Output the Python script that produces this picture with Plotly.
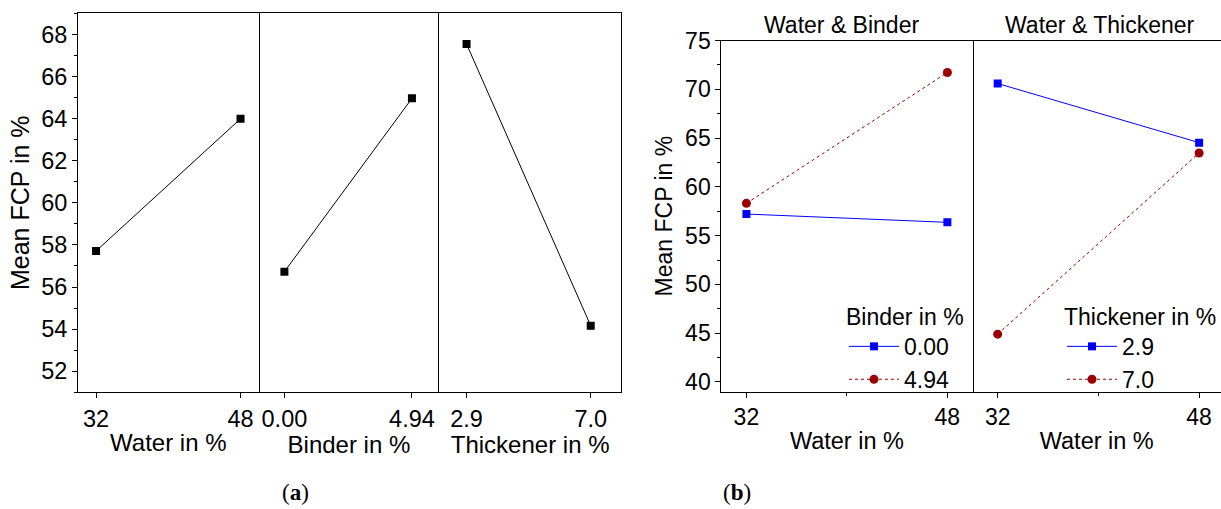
import plotly.graph_objects as go

W, H = 1221, 509

# ---- data (a): main effects ----
water_levels = [32, 48]
water_means = [57.71, 63.99]
binder_levels = [0.0, 4.94]
binder_means = [56.73, 64.96]
thick_levels = [2.9, 7.0]
thick_means = [67.54, 54.16]

# ---- data (b): interactions ----
wb_water = [32, 48]
wb_binder0 = [57.21, 56.36]
wb_binder494 = [58.31, 71.72]
wt_water = [32, 48]
wt_thick29 = [70.59, 64.53]
wt_thick70 = [44.90, 63.47]

FONT = "Liberation Sans, Arial, sans-serif"
FA = 23.5   # panel (a) text size
FB = 23     # panel (b) text size
BLUE = "#0000FF"
RED = "#9B0000"

def xd(a, b):
    return [a / W, min(b / W, 1.0)]

def yd(top, bottom):
    return [1 - bottom / H, 1 - top / H]

def fnt(s):
    return dict(size=s, family=FONT, color="black")

fig = go.Figure()

# (a)
fig.add_trace(go.Scatter(x=water_levels, y=water_means, xaxis="x", yaxis="y",
                         mode="lines+markers", line=dict(color="black", width=1),
                         marker=dict(symbol="square", size=8, color="black"), showlegend=False))
fig.add_trace(go.Scatter(x=binder_levels, y=binder_means, xaxis="x2", yaxis="y2",
                         mode="lines+markers", line=dict(color="black", width=1),
                         marker=dict(symbol="square", size=8, color="black"), showlegend=False))
fig.add_trace(go.Scatter(x=thick_levels, y=thick_means, xaxis="x3", yaxis="y3",
                         mode="lines+markers", line=dict(color="black", width=1),
                         marker=dict(symbol="square", size=8, color="black"), showlegend=False))

# (b)
fig.add_trace(go.Scatter(x=wb_water, y=wb_binder0, xaxis="x4", yaxis="y4", name="0.00",
                         mode="lines+markers", line=dict(color=BLUE, width=1),
                         marker=dict(symbol="square", size=8, color=BLUE), legend="legend"))
fig.add_trace(go.Scatter(x=wb_water, y=wb_binder494, xaxis="x4", yaxis="y4", name="4.94",
                         mode="lines+markers", line=dict(color=RED, width=1, dash="dot"),
                         marker=dict(symbol="circle", size=9, color=RED), legend="legend"))
fig.add_trace(go.Scatter(x=wt_water, y=wt_thick29, xaxis="x5", yaxis="y5", name="2.9",
                         mode="lines+markers", line=dict(color=BLUE, width=1),
                         marker=dict(symbol="square", size=8, color=BLUE), legend="legend2"))
fig.add_trace(go.Scatter(x=wt_water, y=wt_thick70, xaxis="x5", yaxis="y5", name="7.0",
                         mode="lines+markers", line=dict(color=RED, width=1, dash="dot"),
                         marker=dict(symbol="circle", size=9, color=RED), legend="legend2"))

def cx(fs):
    return dict(showline=True, mirror=True, linecolor="black", linewidth=1,
                ticks="outside", ticklen=5, tickcolor="black", showgrid=False,
                zeroline=False, automargin=False, tickfont=fnt(fs),
                title_font=fnt(fs + 0.5), title_standoff=3)

def cy(fs):
    return dict(showline=True, mirror=True, linecolor="black", linewidth=1,
                showgrid=False, zeroline=False, tickcolor="black", automargin=False,
                tickfont=fnt(fs), title_font=fnt(fs))

ya_dom = yd(13.3, 392.3)
yb_dom = yd(40.5, 391.7)

fig.update_layout(
    width=W, height=H, margin=dict(l=0, r=0, t=0, b=0, autoexpand=False),
    paper_bgcolor="white", plot_bgcolor="white",
    font=fnt(FB),
    xaxis=dict(cx(FA), domain=xd(78, 258.6), range=[30, 50], anchor="y",
               tickvals=water_levels, ticktext=["32", "48"], title_text="Water in %"),
    xaxis2=dict(cx(FA), domain=xd(258.6, 439.3), range=[-1, 6], anchor="y2",
                tickvals=binder_levels, ticktext=["0.00", "4.94"], title_text="Binder in %"),
    xaxis3=dict(cx(FA), domain=xd(439.3, 621), range=[2, 8], anchor="y3",
                tickvals=thick_levels, ticktext=["2.9", "7.0"], title_text="Thickener in %"),
    yaxis=dict(cy(FA), domain=ya_dom, range=[51, 69], anchor="x", dtick=2, tick0=52,
               ticks="outside", ticklen=5,
               minor=dict(ticks="outside", ticklen=3, dtick=1, tick0=51, tickcolor="black"),
               title_text="Mean FCP in %", title_font=fnt(25), title_standoff=4),
    yaxis2=dict(cy(FA), domain=ya_dom, range=[51, 69], anchor="x2", showline=False,
                showticklabels=False, ticks=""),
    yaxis3=dict(cy(FA), domain=ya_dom, range=[51, 69], anchor="x3",
                showticklabels=False, ticks=""),
    xaxis4=dict(cx(FB), domain=xd(721.3, 972.5), range=[30, 50], anchor="y4",
                tickvals=wb_water, ticktext=["32", "48"], title_text="Water in %",
                minor=dict(ticks="outside", ticklen=3, tickvals=[40], tickcolor="black")),
    xaxis5=dict(cx(FB), domain=xd(972.5, 1221), range=[30, 30 + (1221 - 972.5) / 12.59],
                anchor="y5", tickvals=wt_water, ticktext=["32", "48"], title_text="Water in %",
                minor=dict(ticks="outside", ticklen=3, tickvals=[40], tickcolor="black")),
    yaxis4=dict(cy(FB), domain=yb_dom, range=[39, 75], anchor="x4", dtick=5, tick0=40,
                ticks="outside", ticklen=5,
                minor=dict(ticks="outside", ticklen=3, dtick=2.5, tick0=40, tickcolor="black"),
                title_text="Mean FCP in %", title_standoff=6),
    yaxis5=dict(cy(FB), domain=yb_dom, range=[39, 75], anchor="x5", showline=False,
                showticklabels=False, ticks=""),
    legend=dict(x=844 / W, y=1 - 295 / H, xanchor="left", yanchor="top",
                bgcolor="rgba(0,0,0,0)", font=fnt(FB),
                title=dict(text="Binder in %", font=fnt(FB)),
                tracegroupgap=0, itemwidth=50),
    legend2=dict(x=1062 / W, y=1 - 295 / H, xanchor="left", yanchor="top",
                 bgcolor="rgba(0,0,0,0)", font=fnt(FB),
                 title=dict(text="Thickener in %", font=fnt(FB)),
                 tracegroupgap=0, itemwidth=50),
    annotations=[
        dict(text="Water & Binder", x=841.7 / W, y=1 - 25 / H, xref="paper", yref="paper",
             showarrow=False, xanchor="center", yanchor="middle", font=fnt(FB)),
        dict(text="Water & Thickener", x=1100 / W, y=1 - 25 / H, xref="paper", yref="paper",
             showarrow=False, xanchor="center", yanchor="middle", font=fnt(FB)),
        dict(text="(<b>a</b>)", x=295 / W, y=1 - 492 / H, xref="paper", yref="paper",
             showarrow=False, xanchor="center", yanchor="middle",
             font=dict(size=23, family="Liberation Serif, serif", color="black")),
        dict(text="(<b>b</b>)", x=737 / W, y=1 - 492 / H, xref="paper", yref="paper",
             showarrow=False, xanchor="center", yanchor="middle",
             font=dict(size=23, family="Liberation Serif, serif", color="black")),
    ],
)

fig.write_html("out.html", config={"displayModeBar": False},
               post_script="document.body.style.margin='0px';document.body.style.overflow='hidden';")
